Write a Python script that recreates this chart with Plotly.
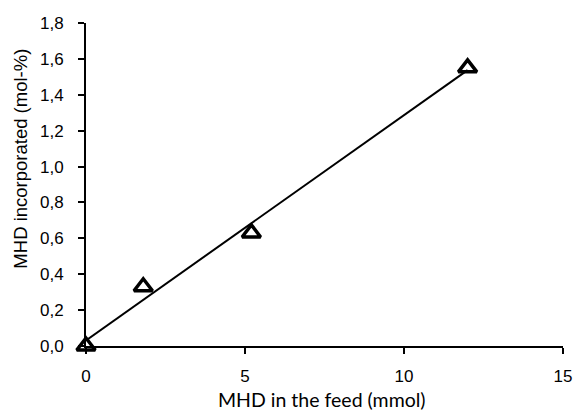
import numpy as np
import plotly.graph_objects as go

feed_mmol = [0, 1.8, 5.2, 12]
incorporated = [0, 0.33, 0.63, 1.55]
x_ticks = [0, 5, 10, 15]
y_ticks = [0, 0.2, 0.4, 0.6, 0.8, 1.0, 1.2, 1.4, 1.6, 1.8]
x_title = "MHD in the feed (mmol)"
y_title = "MHD incorporated (mol-%)"

slope, intercept = np.polyfit(feed_mmol, incorporated, 1)
fit_x = [min(feed_mmol), max(feed_mmol)]
fit_y = [slope * v + intercept for v in fit_x]

fig = go.Figure()
fig.add_trace(go.Scatter(x=fit_x, y=fit_y, mode="lines",
                         line=dict(color="black", width=2), cliponaxis=False,
                         showlegend=False))
fig.add_trace(go.Scatter(x=feed_mmol, y=incorporated, mode="markers",
                         marker=dict(symbol="triangle-up-open", size=16,
                                     color="black", line=dict(width=3.5, color="black")),
                         cliponaxis=False, showlegend=False))

fam = "Liberation Sans, Arial, sans-serif"
tf = dict(family=fam, size=17, color="black")
fig.update_layout(
    width=584, height=412,
    margin=dict(l=86, r=16, t=23, b=66),
    plot_bgcolor="white", paper_bgcolor="white",
    separators=",.",
    font=tf,
    xaxis=dict(range=[0, 15], tickvals=x_ticks, showgrid=False, zeroline=False,
               showline=True, linecolor="black", linewidth=2,
               ticks="outside", ticklen=6, tickwidth=2, tickcolor="black",
               tickfont=tf, ticklabelstandoff=8),
    yaxis=dict(range=[0, 1.8], tickvals=y_ticks, tickformat=".1f", showgrid=False,
               zeroline=False, showline=True, linecolor="black", linewidth=2,
               ticks="outside", ticklen=6, tickwidth=2, tickcolor="black",
               tickfont=tf, ticklabelstandoff=11),
    annotations=[
        dict(text=x_title, xref="paper", yref="paper", x=0.494, y=-0.166,
             showarrow=False, xanchor="center", yanchor="middle",
             font=dict(family="Lato, Open Sans, sans-serif", size=19.5, color="black")),
        dict(text=y_title, xref="paper", yref="paper", x=-0.137, y=0.579,
             showarrow=False, xanchor="center", yanchor="middle", textangle=-90,
             font=dict(family=fam, size=18.5, color="black")),
    ],
)
fig.write_html("out.html")
